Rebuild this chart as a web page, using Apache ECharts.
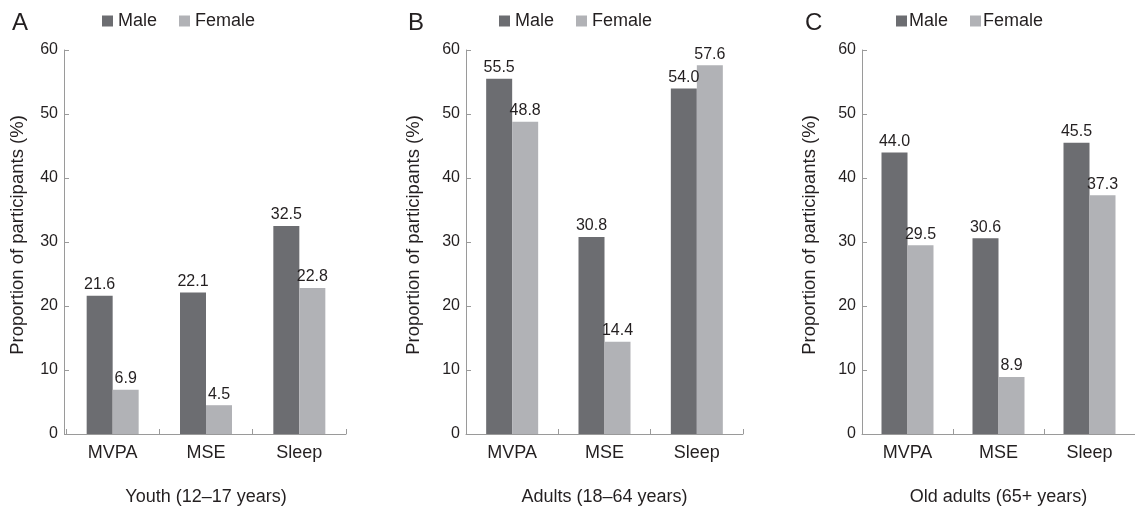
<!DOCTYPE html>
<html><head><meta charset="utf-8">
<script src="https://cdn.jsdelivr.net/npm/echarts@6/dist/echarts.min.js"></script>
<style>html,body{margin:0;padding:0;background:#fff}#c{width:1135px;height:511px}</style>
</head><body><div id="c"></div>
<script>
const categories = ['MVPA', 'MSE', 'Sleep'];
const panelLetters = ['A', 'B', 'C'];
const panelTitles = ['Youth (12\u201317 years)', 'Adults (18\u201364 years)', 'Old adults (65+ years)'];
const youthMale = [21.6, 22.1, 32.5];
const youthFemale = [6.9, 4.5, 22.8];
const adultMale = [55.5, 30.8, 54.0];
const adultFemale = [48.8, 14.4, 57.6];
const oldMale = [44.0, 30.6, 45.5];
const oldFemale = [29.5, 8.9, 37.3];
const yTicks = { min: 0, max: 60, interval: 10 };
const yName = 'Proportion of participants (%)';

const maleData = [youthMale, adultMale, oldMale];
const femaleData = [youthFemale, adultFemale, oldFemale];

const FONT = 'Liberation Sans, Arial, Helvetica, sans-serif';
const TXT = '#231f20';
const AX = '#9a9a9a';
const MALE = '#6c6d71';
const FEMALE = '#b1b2b6';

const grids = [
  { left: 66, top: 50, width: 280, height: 388 },
  { left: 466, top: 50, width: 277, height: 388 },
  { left: 862, top: 50, width: 275, height: 388 }
];
const yNameGaps = [37, 43, 43];
const legendLeft = [97, 494, 891];
const letterLeft = [7, 403, 800];

const option = {
  animation: false,
  textStyle: { fontFamily: FONT, color: TXT },
  title: panelLetters.map((t, i) => ({
    text: t, left: letterLeft[i], top: 6,
    textStyle: { fontFamily: FONT, fontSize: 24, fontWeight: 'normal', color: TXT }
  })),
  legend: [0, 1, 2].map(i => ({
    data: ['Male', 'Female'], left: legendLeft[i], top: 7,
    icon: 'rect', itemWidth: 11, itemHeight: 11, itemGap: 22,
    textStyle: { fontFamily: FONT, fontSize: 18, color: TXT, padding: i === 2 ? [0, 0, 0, -3] : 0 },
    selectedMode: false
  })),
  grid: grids,
  xAxis: [0, 1, 2].map(i => ({
    type: 'category', gridIndex: i, data: categories,
    name: panelTitles[i], nameLocation: 'middle', nameGap: 54,
    nameTextStyle: { fontFamily: FONT, fontSize: 18, color: TXT },
    axisLine: { lineStyle: { color: AX, width: 1 } },
    axisTick: { show: true, inside: true, length: 5, lineStyle: { color: AX } },
    axisLabel: { fontFamily: FONT, fontSize: 18, color: TXT, margin: 10 },
    splitLine: { show: false }
  })),
  yAxis: [0, 1, 2].map(i => ({
    type: 'value', gridIndex: i, min: yTicks.min, max: yTicks.max, interval: yTicks.interval,
    offset: i === 0 ? 2 : 0,
    name: yName, nameLocation: 'middle', nameGap: yNameGaps[i], nameRotate: 90,
    nameTextStyle: { fontFamily: FONT, fontSize: 18.5, color: TXT, padding: [0, 0, 0, 14] },
    axisLine: { show: true, lineStyle: { color: AX, width: 1 } },
    axisTick: { show: true, inside: true, length: 5, lineStyle: { color: AX } },
    axisLabel: { fontFamily: FONT, fontSize: 16, color: TXT, margin: 6 },
    splitLine: { show: false }
  })),
  series: []
};

for (let i = 0; i < 3; i++) {
  option.series.push({
    name: 'Male', type: 'bar', xAxisIndex: i, yAxisIndex: i,
    data: maleData[i], barWidth: 26, barGap: '0%',
    itemStyle: { color: MALE },
    label: { show: true, position: 'top', distance: 3, fontFamily: FONT, fontSize: 16, color: TXT,
      formatter: p => p.value.toFixed(1) }
  });
  option.series.push({
    name: 'Female', type: 'bar', xAxisIndex: i, yAxisIndex: i,
    data: femaleData[i], barWidth: 26, barGap: '0%',
    itemStyle: { color: FEMALE },
    label: { show: true, position: 'top', distance: 3, fontFamily: FONT, fontSize: 16, color: TXT,
      formatter: p => p.value.toFixed(1) }
  });
}

const chart = echarts.init(document.getElementById('c'), null, { renderer: 'canvas' });
chart.setOption(option);
</script>
</body></html>
